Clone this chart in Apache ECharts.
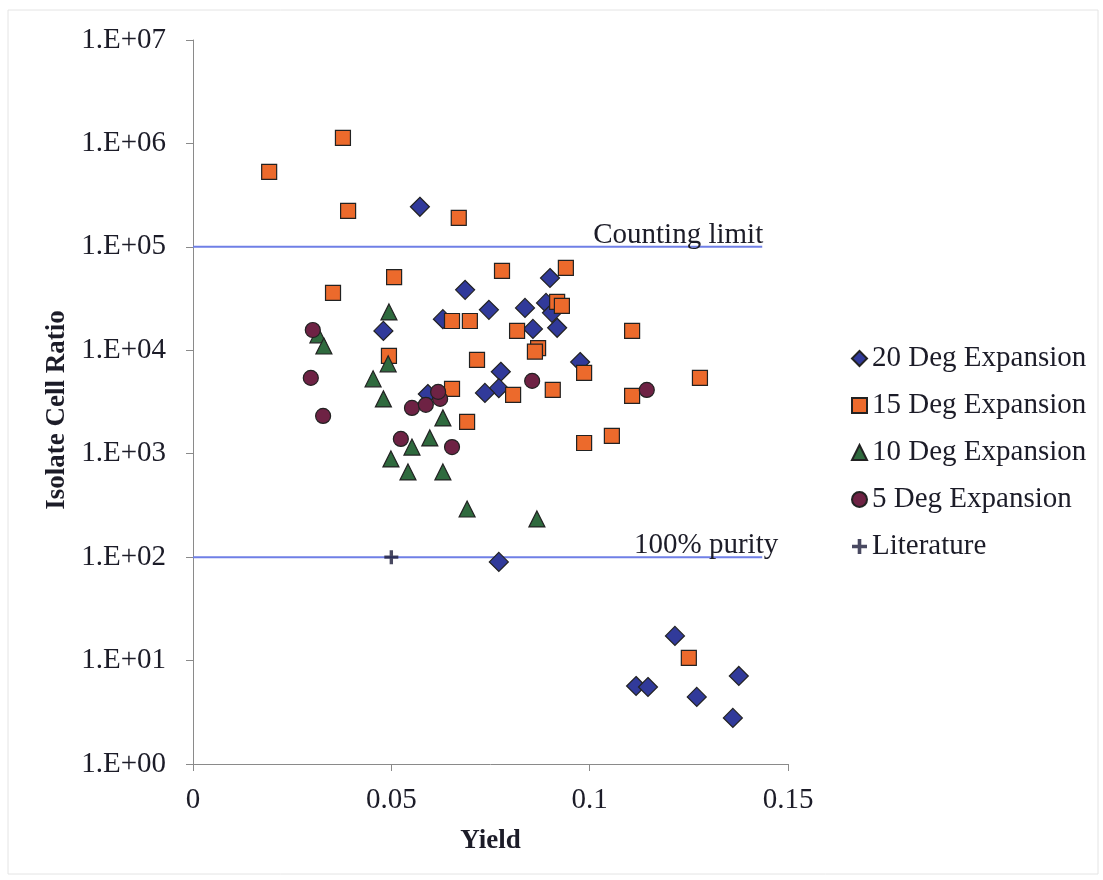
<!DOCTYPE html>
<html>
<head>
<meta charset="utf-8">
<script src="https://cdn.jsdelivr.net/npm/echarts@6/dist/echarts.min.js"></script>
<style>
html,body{margin:0;padding:0;background:#fff;}
#chart{width:1103px;height:880px;}
</style>
</head>
<body>
<div id="chart"></div>
<script>
// ---- data ----
const seriesNames = ['20 Deg Expansion', '15 Deg Expansion', '10 Deg Expansion', '5 Deg Expansion', 'Literature'];
const xTicks = [0, 0.05, 0.1, 0.15];
const yTickLabels = ['1.E+00','1.E+01','1.E+02','1.E+03','1.E+04','1.E+05','1.E+06','1.E+07'];

const deg20 = [
  [0.0572, 2.44e5], [0.048, 1.54e4], [0.063, 2.0e4], [0.0686, 3.84e4], [0.0746, 2.46e4],
  [0.0837, 2.57e4], [0.090, 5.0e4], [0.089, 2.87e4], [0.0905, 2.3e4], [0.0857, 1.61e4],
  [0.0918, 1.65e4], [0.0976, 7.7e3], [0.0776, 6.2e3], [0.0771, 4.3e3], [0.0736, 3.87e3],
  [0.0592, 3.78e3], [0.0771, 90], [0.1215, 17.3], [0.1117, 5.68], [0.1147, 5.55],
  [0.127, 4.45], [0.1376, 7.1], [0.1361, 2.79]
];
const deg15 = [
  [0.0192, 5.31e5], [0.0378, 1.13e6], [0.0391, 2.23e5], [0.067, 1.91e5], [0.0507, 5.1e4],
  [0.0353, 3.59e4], [0.0779, 5.86e4], [0.094, 6.27e4], [0.0918, 2.94e4], [0.093, 2.69e4],
  [0.0653, 1.92e4], [0.0698, 1.92e4], [0.0817, 1.54e4], [0.087, 1.05e4], [0.0862, 9.7e3],
  [0.1107, 1.54e4], [0.0716, 8.08e3], [0.0986, 6.04e3], [0.1278, 5.4e3], [0.0653, 4.23e3],
  [0.0807, 3.7e3], [0.0907, 4.14e3], [0.1107, 3.62e3], [0.0691, 2.03e3], [0.0986, 1.27e3],
  [0.1056, 1.49e3], [0.0494, 8.83e3], [0.125, 10.6]
];
const deg10 = [
  [0.0315, 1.41e4], [0.033, 1.1e4], [0.0494, 2.35e4], [0.0492, 7.4e3], [0.0454, 5.3e3],
  [0.048, 3.39e3], [0.063, 2.22e3], [0.0597, 1.42e3], [0.0552, 1.16e3], [0.0499, 891],
  [0.0542, 667], [0.063, 667], [0.0691, 292], [0.0867, 234]
];
const deg5 = [
  [0.0302, 1.57e4], [0.0297, 5.41e3], [0.0328, 2.32e3], [0.0552, 2.77e3], [0.0587, 2.97e3],
  [0.0623, 3.39e3], [0.0618, 3.96e3], [0.0524, 1.39e3], [0.0653, 1.16e3], [0.0855, 5.06e3],
  [0.1144, 4.14e3]
];
const literature = [[0.05, 100]];

const countingLimit = [[0, 1e5], [0.1435, 1e5]];
const purityLine = [[0, 1e2], [0.1435, 1e2]];
const countingLabel = 'Counting limit';
const purityLabel = '100% purity';

// ---- styling ----
const FONT = '"Liberation Serif", "Times New Roman", serif';
const TXT = '#1c1c28';
const plusPath = 'path://M3.8,0H6.2V3.8H10V6.2H6.2V10H3.8V6.2H0V3.8H3.8Z';

const chart = echarts.init(document.getElementById('chart'), null, {renderer: 'canvas'});

function scatter(name, data, symbol, color, size) {
  return {
    name, type: 'scatter', data, symbol, symbolSize: size,
    itemStyle: {color, borderColor: '#222', borderWidth: 1.2, opacity: 1},
    emphasis: {disabled: true}
  };
}

function refLine(data, text, dx, dy) {
  return {
    type: 'line', data, symbol: 'none', silent: true,
    lineStyle: {color: '#6f7fe6', width: 2},
    label: {show: false},
    endLabel: {
      show: true, formatter: text, fontFamily: FONT, fontSize: 29, color: TXT,
      align: 'right', verticalAlign: 'bottom', offset: [dx, dy]
    },
    z: 1
  };
}

const option = {
  backgroundColor: '#fff',
  animation: false,
  textStyle: {fontFamily: FONT, color: TXT},
  grid: {left: 193, right: 315, top: 40, bottom: 116, containLabel: false},
  xAxis: {
    type: 'value', min: 0, max: 0.15, interval: 0.05,
    name: 'Yield', nameLocation: 'middle', nameGap: 64,
    nameTextStyle: {fontFamily: FONT, fontSize: 27, fontWeight: 'bold', color: TXT},
    axisLine: {show: true, lineStyle: {color: '#8a8a8a', width: 1}},
    axisTick: {show: true, length: 7, lineStyle: {color: '#8a8a8a'}},
    axisLabel: {fontFamily: FONT, fontSize: 29, color: TXT, margin: 22,
      formatter: v => String(xTicks.find(t => Math.abs(t - v) < 1e-9) ?? v)},
    splitLine: {show: false}
  },
  yAxis: {
    type: 'log', logBase: 10, min: 1, max: 1e7,
    name: 'Isolate Cell Ratio', nameLocation: 'middle', nameGap: 122, nameRotate: 90,
    nameTextStyle: {fontFamily: FONT, fontSize: 27, fontWeight: 'bold', color: TXT, padding: [0, 16, 0, 0]},
    axisLine: {show: true, lineStyle: {color: '#8a8a8a', width: 1}},
    axisTick: {show: true, length: 7, lineStyle: {color: '#8a8a8a'}},
    axisLabel: {fontFamily: FONT, fontSize: 29, color: TXT, margin: 27,
      formatter: v => yTickLabels[Math.round(Math.log10(v))]},
    splitLine: {show: false},
    minorTick: {show: false}
  },
  legend: {
    orient: 'vertical', left: 846, top: 339,
    itemWidth: 15, itemHeight: 15, itemGap: 18,
    textStyle: {fontFamily: FONT, fontSize: 29, color: TXT, lineHeight: 29, padding: [0,0,0,0]},
    data: [
      {name: seriesNames[0], icon: 'diamond'},
      {name: seriesNames[1], icon: 'rect'},
      {name: seriesNames[2], icon: 'triangle'},
      {name: seriesNames[3], icon: 'circle'},
      {name: seriesNames[4], icon: plusPath}
    ]
  },
  graphic: [{
    type: 'rect', shape: {x: 8, y: 10, width: 1090, height: 864},
    style: {fill: 'none', stroke: '#e4e4e4', lineWidth: 1}, silent: true, z: -10
  }],
  series: [
    refLine(countingLimit, countingLabel, -7, 3),
    refLine(purityLine, purityLabel, 8, 3),
    scatter(seriesNames[0], deg20, 'diamond', '#313a9a', 19),
    scatter(seriesNames[1], deg15, 'rect', '#ec6a2c', 15),
    scatter(seriesNames[2], deg10, 'triangle', '#2f6a3e', 16),
    scatter(seriesNames[3], deg5, 'circle', '#6e2244', 15),
    {name: seriesNames[4], type: 'scatter', data: literature, symbol: plusPath, symbolSize: 14,
      itemStyle: {color: '#1c1c3a', borderWidth: 0}, emphasis: {disabled: true}}
  ]
};
chart.setOption(option);
</script>
</body>
</html>
